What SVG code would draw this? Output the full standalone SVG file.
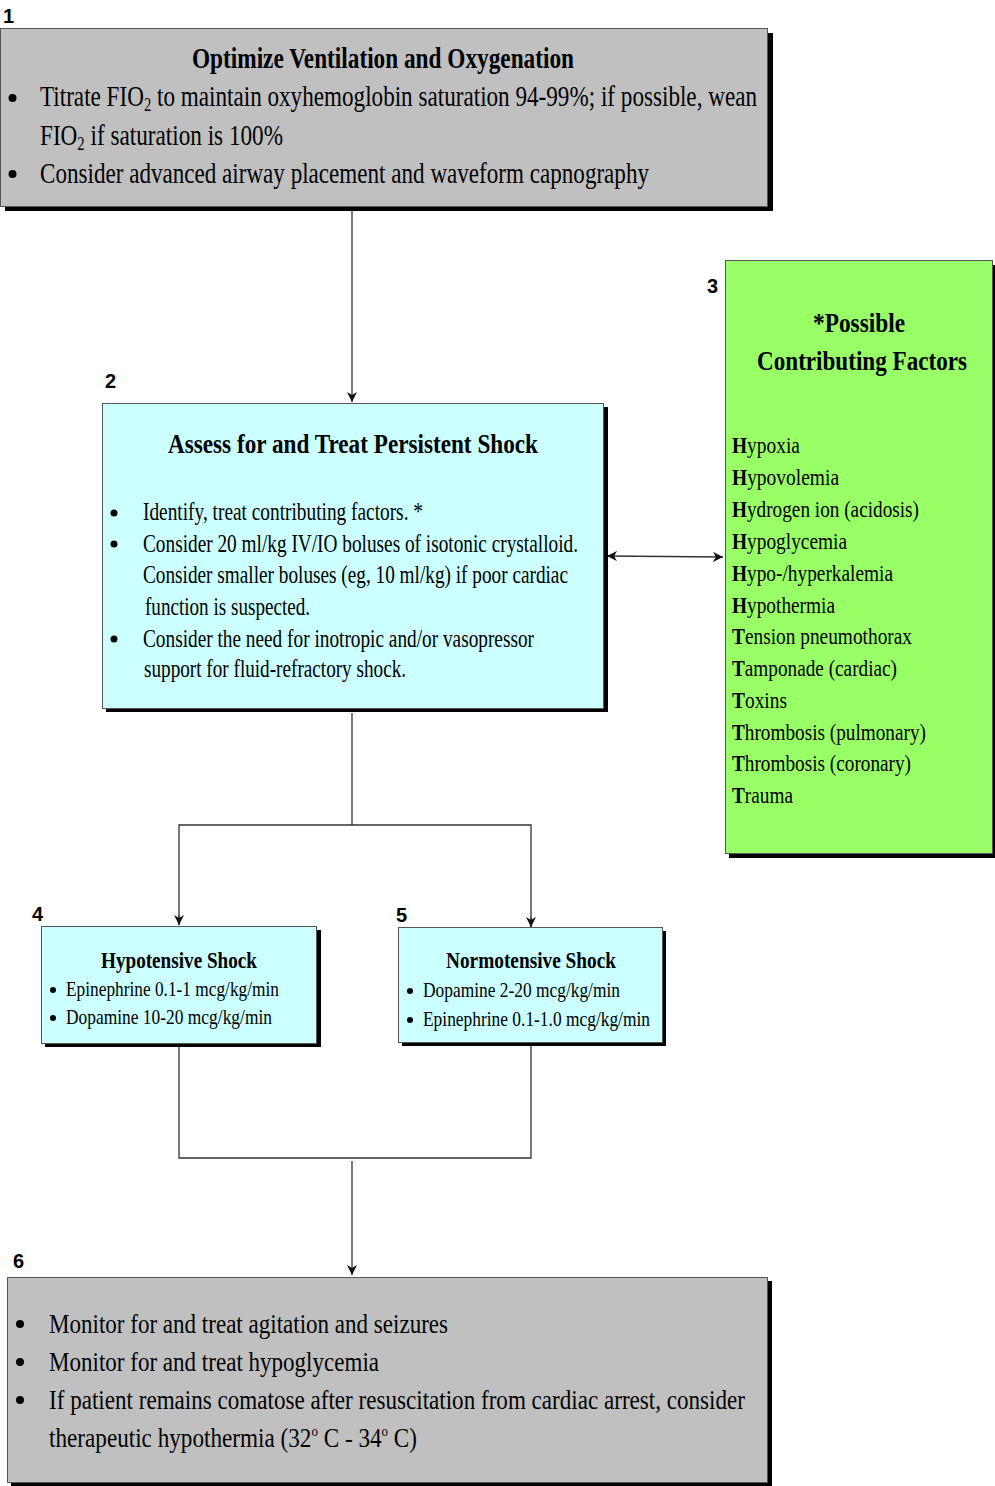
<svg xmlns="http://www.w3.org/2000/svg" width="995" height="1486" viewBox="0 0 995 1486">
<style>
.bg{fill:#ffffff}
.shadow{fill:#000000}
.box{stroke:#555555;stroke-width:1}
.gray{fill:#C0C0C0}
.cyan{fill:#CCFFFF}
.green{fill:#99FF66}
.t{font-family:"Liberation Serif","Times New Roman",serif;fill:#000}
.b{font-weight:bold}
.f{font-size:24px}
.num{font-family:"Liberation Sans",Arial,sans-serif;font-weight:bold;font-size:20px;fill:#000}
.dot{fill:#000}
.conn{stroke:#333333;stroke-width:1.3;fill:none}
</style>
<defs>
<marker id="ah" markerUnits="userSpaceOnUse" markerWidth="11" markerHeight="10" refX="10" refY="5" orient="auto-start-reverse" viewBox="0 0 11 10">
<path d="M0,0 L10,5 L0,10 L3,5 Z" fill="#111"/>
</marker>
</defs>
<rect class="bg" x="0" y="0" width="995" height="1486"/>

<g id="connectors">
<line class="conn" x1="352" y1="211" x2="352" y2="402" marker-end="url(#ah)"/>
<line class="conn" x1="352" y1="713" x2="352" y2="825"/>
<polyline class="conn" points="179,925 179,825 531,825 531,927"/>
<line class="conn" x1="179" y1="915" x2="179" y2="925" marker-end="url(#ah)"/>
<line class="conn" x1="531" y1="917" x2="531" y2="927" marker-end="url(#ah)"/>
<polyline class="conn" points="179,1047 179,1158 531,1158 531,1046"/>
<line class="conn" x1="352" y1="1161" x2="352" y2="1275" marker-end="url(#ah)"/>
<line class="conn" x1="607" y1="556" x2="723" y2="557" marker-start="url(#ah)" marker-end="url(#ah)"/>
</g>

<g id="node1">
<rect class="shadow" x="5" y="33" width="768" height="178"/>
<rect class="box gray" x="0.5" y="28.5" width="767" height="178"/>
<text class="num" x="3" y="23">1</text>
<text class="t b" transform="matrix(0.77 0 0 1 192 68)" font-size="30" textLength="496.1" lengthAdjust="spacingAndGlyphs">Optimize Ventilation and Oxygenation</text>
<circle class="dot" cx="12.5" cy="98" r="4"/>
<text class="t" transform="matrix(0.77 0 0 1 40 106)" font-size="30" textLength="931.2" lengthAdjust="spacingAndGlyphs">Titrate FIO<tspan font-size="19" dy="5">2</tspan><tspan dy="-5"> to maintain oxyhemoglobin saturation 94-99%; if possible, wean</tspan></text>
<text class="t" transform="matrix(0.77 0 0 1 40 145)" font-size="30" textLength="315.6" lengthAdjust="spacingAndGlyphs">FIO<tspan font-size="19" dy="5">2</tspan><tspan dy="-5"> if saturation is 100%</tspan></text>
<circle class="dot" cx="12.5" cy="174" r="4"/>
<text class="t" transform="matrix(0.77 0 0 1 40 183)" font-size="30" textLength="790.9" lengthAdjust="spacingAndGlyphs">Consider advanced airway placement and waveform capnography</text>
</g>

<g id="node2">
<rect class="shadow" x="106" y="407" width="502" height="305"/>
<rect class="box cyan" x="102.5" y="403.5" width="501" height="305"/>
<text class="num" x="105" y="388">2</text>
<text class="t b" transform="matrix(0.77 0 0 1 168 453)" font-size="27" textLength="480.5" lengthAdjust="spacingAndGlyphs">Assess for and Treat Persistent Shock</text>
<circle class="dot" cx="114" cy="513" r="3.5"/>
<text class="t" transform="matrix(0.77 0 0 1 143 520)" font-size="26" textLength="363.6" lengthAdjust="spacingAndGlyphs">Identify, treat contributing factors. *</text>
<circle class="dot" cx="114" cy="544" r="3.5"/>
<text class="t" transform="matrix(0.77 0 0 1 143 552)" font-size="26" textLength="564.9" lengthAdjust="spacingAndGlyphs">Consider 20 ml/kg IV/IO boluses of isotonic crystalloid.</text>
<text class="t" transform="matrix(0.77 0 0 1 143 583)" font-size="26" textLength="551.9" lengthAdjust="spacingAndGlyphs">Consider smaller boluses (eg, 10 ml/kg) if poor cardiac</text>
<text class="t" transform="matrix(0.77 0 0 1 145 615)" font-size="26" textLength="214.3" lengthAdjust="spacingAndGlyphs">function is suspected.</text>
<circle class="dot" cx="114" cy="639" r="3.5"/>
<text class="t" transform="matrix(0.77 0 0 1 143 647)" font-size="26" textLength="507.8" lengthAdjust="spacingAndGlyphs">Consider the need for inotropic and/or vasopressor</text>
<text class="t" transform="matrix(0.77 0 0 1 144 677)" font-size="26" textLength="340.3" lengthAdjust="spacingAndGlyphs">support for fluid-refractory shock.</text>
</g>

<g id="node3">
<rect class="shadow" x="729" y="265" width="268" height="593"/>
<rect class="box green" x="725.5" y="260.5" width="267" height="593"/>
<text class="num" x="707" y="293">3</text>
<text class="t b" transform="matrix(0.77 0 0 1 859 332)" font-size="27" text-anchor="middle" textLength="119.5" lengthAdjust="spacingAndGlyphs">*Possible</text>
<text class="t b" transform="matrix(0.77 0 0 1 862 370)" font-size="27" text-anchor="middle" textLength="272.7" lengthAdjust="spacingAndGlyphs">Contributing Factors</text>
<text class="t f" transform="matrix(0.77 0 0 1 732 453)" textLength="88.3" lengthAdjust="spacingAndGlyphs"><tspan class="b">H</tspan>ypoxia</text>
<text class="t f" transform="matrix(0.77 0 0 1 732 485)" textLength="139" lengthAdjust="spacingAndGlyphs"><tspan class="b">H</tspan>ypovolemia</text>
<text class="t f" transform="matrix(0.77 0 0 1 732 517)" textLength="242.9" lengthAdjust="spacingAndGlyphs"><tspan class="b">H</tspan>ydrogen ion (acidosis)</text>
<text class="t f" transform="matrix(0.77 0 0 1 732 549)" textLength="149.4" lengthAdjust="spacingAndGlyphs"><tspan class="b">H</tspan>ypoglycemia</text>
<text class="t f" transform="matrix(0.77 0 0 1 732 581)" textLength="209.1" lengthAdjust="spacingAndGlyphs"><tspan class="b">H</tspan>ypo-/hyperkalemia</text>
<text class="t f" transform="matrix(0.77 0 0 1 732 613)" textLength="133.8" lengthAdjust="spacingAndGlyphs"><tspan class="b">H</tspan>ypothermia</text>
<text class="t f" transform="matrix(0.77 0 0 1 732 644)" textLength="233.8" lengthAdjust="spacingAndGlyphs"><tspan class="b">T</tspan>ension pneumothorax</text>
<text class="t f" transform="matrix(0.77 0 0 1 732 676)" textLength="214.3" lengthAdjust="spacingAndGlyphs"><tspan class="b">T</tspan>amponade (cardiac)</text>
<text class="t f" transform="matrix(0.77 0 0 1 732 708)" textLength="71.4" lengthAdjust="spacingAndGlyphs"><tspan class="b">T</tspan>oxins</text>
<text class="t f" transform="matrix(0.77 0 0 1 732 740)" textLength="251.9" lengthAdjust="spacingAndGlyphs"><tspan class="b">T</tspan>hrombosis (pulmonary)</text>
<text class="t f" transform="matrix(0.77 0 0 1 732 771)" textLength="232.5" lengthAdjust="spacingAndGlyphs"><tspan class="b">T</tspan>hrombosis (coronary)</text>
<text class="t f" transform="matrix(0.77 0 0 1 732 803)" textLength="79.2" lengthAdjust="spacingAndGlyphs"><tspan class="b">T</tspan>rauma</text>
</g>

<g id="node4">
<rect class="shadow" x="45" y="930" width="276" height="117"/>
<rect class="box cyan" x="41.5" y="926.5" width="275" height="117"/>
<text class="num" x="32" y="921">4</text>
<text class="t b" transform="matrix(0.77 0 0 1 101 968)" font-size="23" textLength="202.6" lengthAdjust="spacingAndGlyphs">Hypotensive Shock</text>
<circle class="dot" cx="53" cy="990" r="3"/>
<text class="t" transform="matrix(0.77 0 0 1 66 996)" font-size="21" textLength="276.6" lengthAdjust="spacingAndGlyphs">Epinephrine 0.1-1 mcg/kg/min</text>
<circle class="dot" cx="53" cy="1018" r="3"/>
<text class="t" transform="matrix(0.77 0 0 1 66 1024)" font-size="21" textLength="267.5" lengthAdjust="spacingAndGlyphs">Dopamine 10-20 mcg/kg/min</text>
</g>

<g id="node5">
<rect class="shadow" x="402" y="931" width="264" height="115"/>
<rect class="box cyan" x="398.5" y="927.5" width="264" height="115"/>
<text class="num" x="396" y="922">5</text>
<text class="t b" transform="matrix(0.77 0 0 1 446 968)" font-size="23" textLength="220.8" lengthAdjust="spacingAndGlyphs">Normotensive Shock</text>
<circle class="dot" cx="410" cy="991" r="3"/>
<text class="t" transform="matrix(0.77 0 0 1 423 997)" font-size="21" textLength="255.8" lengthAdjust="spacingAndGlyphs">Dopamine 2-20 mcg/kg/min</text>
<circle class="dot" cx="410" cy="1020" r="3"/>
<text class="t" transform="matrix(0.77 0 0 1 423 1026)" font-size="21" textLength="294.8" lengthAdjust="spacingAndGlyphs">Epinephrine 0.1-1.0 mcg/kg/min</text>
</g>

<g id="node6">
<rect class="shadow" x="11" y="1281" width="761" height="205"/>
<rect class="box gray" x="7.5" y="1277.5" width="760" height="205"/>
<text class="num" x="13" y="1268">6</text>
<circle class="dot" cx="20" cy="1324" r="4"/>
<text class="t" transform="matrix(0.77 0 0 1 49 1333)" font-size="27" textLength="518.2" lengthAdjust="spacingAndGlyphs">Monitor for and treat agitation and seizures</text>
<circle class="dot" cx="20" cy="1362" r="4"/>
<text class="t" transform="matrix(0.77 0 0 1 49 1371)" font-size="27" textLength="428.6" lengthAdjust="spacingAndGlyphs">Monitor for and treat hypoglycemia</text>
<circle class="dot" cx="20" cy="1400" r="4"/>
<text class="t" transform="matrix(0.77 0 0 1 49 1409)" font-size="27" textLength="903.9" lengthAdjust="spacingAndGlyphs">If patient remains comatose after resuscitation from cardiac arrest, consider</text>
<text class="t" transform="matrix(0.77 0 0 1 49 1447)" font-size="27" textLength="477.9" lengthAdjust="spacingAndGlyphs">therapeutic hypothermia (32<tspan font-size="15" dy="-11">o</tspan><tspan dy="11"> C - 34</tspan><tspan font-size="15" dy="-11">o</tspan><tspan dy="11"> C)</tspan></text>
</g>
</svg>
